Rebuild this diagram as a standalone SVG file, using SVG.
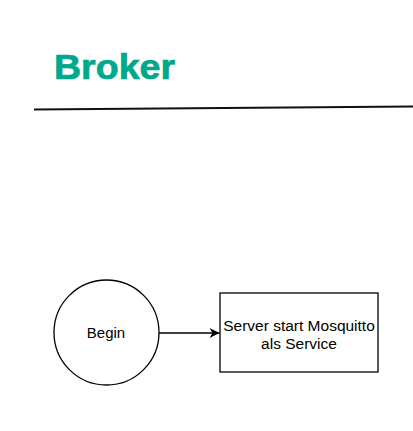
<svg xmlns="http://www.w3.org/2000/svg" width="413" height="431" viewBox="0 0 413 431">
<defs>
<style>
.shape{fill:#ffffff;stroke:#000000;stroke-width:1.3}
.lbl{font-family:"Liberation Sans",Arial,sans-serif;font-size:15px;fill:#000000;text-anchor:middle}
.title{font-family:"Liberation Sans",Arial,sans-serif;font-size:35px;font-weight:bold;fill:#00a88c;stroke:#00a88c;stroke-width:0.7}
.conn{stroke:#000000;stroke-width:1.3;fill:none}
</style>
<marker id="arrow" viewBox="0 0 10 10" refX="10" refY="5" markerWidth="11" markerHeight="10" markerUnits="userSpaceOnUse" orient="auto">
<path d="M0,0 L10,5 L0,10 L3,5 Z" fill="#000000"/>
</marker>
</defs>
<rect width="413" height="431" fill="#ffffff"/>
<g id="title">
<text class="title" x="54" y="79" textLength="121" lengthAdjust="spacingAndGlyphs">Broker</text>
</g>
<g id="divider">
<line x1="34" y1="109.5" x2="413" y2="106.5" stroke="#111111" stroke-width="1.8"/>
</g>
<g id="connectors">
<line class="conn" x1="159" y1="333" x2="219.5" y2="333" marker-end="url(#arrow)"/>
</g>
<g id="node-begin">
<circle class="shape" cx="106.5" cy="332.5" r="52.5"/>
<text class="lbl" x="106" y="338">Begin</text>
</g>
<g id="node-server">
<rect class="shape" x="220" y="293" width="158" height="79"/>
<text class="lbl" x="299" y="331" style="font-size:15.5px">Server start Mosquitto</text>
<text class="lbl" x="299" y="348.5" style="font-size:15.5px">als Service</text>
</g>
</svg>
